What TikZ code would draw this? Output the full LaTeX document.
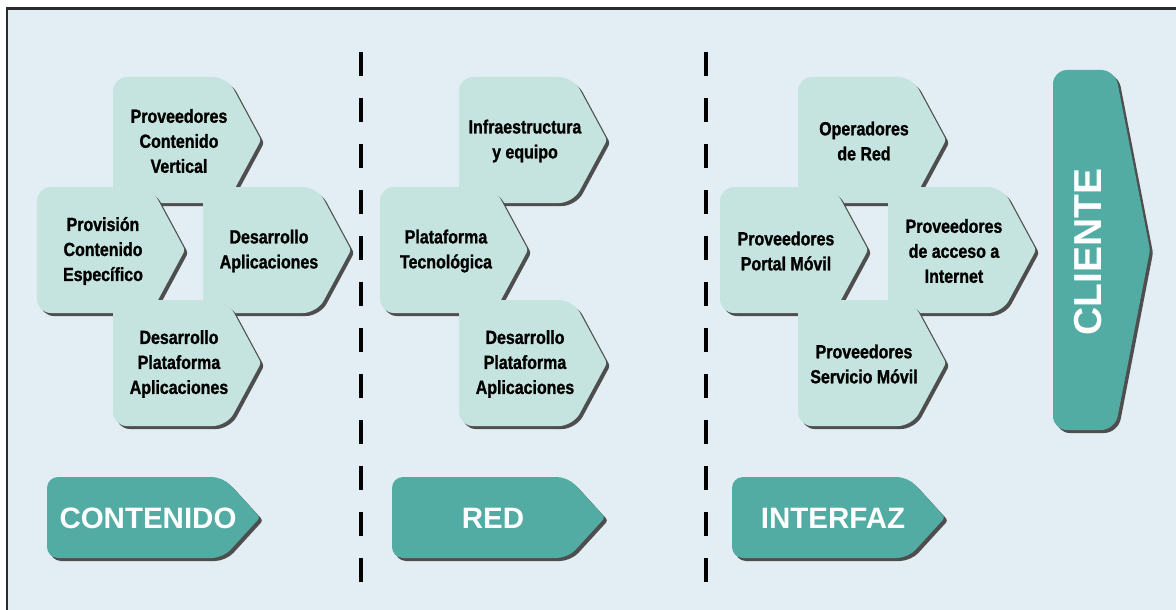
\documentclass[tikz,border=0pt]{standalone}
\usepackage{fontspec}
\setmainfont{Liberation Sans}
\newfontfamily\stagefont[FakeStretch=0.84,FakeBold=1.2]{Liberation Sans}

\definecolor{bgc}{HTML}{E2EEF4}
\definecolor{framec}{HTML}{2B2B2B}
\definecolor{boxc}{HTML}{C6E4DF}
\definecolor{tealc}{HTML}{52ACA3}
\definecolor{shadowc}{HTML}{4E4E4E}

% filled chevron: style, left, top, width, height, depth of the point, corner radius
\newcommand\chevron[7]{%
  \fill[#1, rounded corners=#7] (#2,#3) -- ({#2+#4-#6},#3)
    [rounded corners=3] -- ({#2+#4},{#3+#5/2})
    [rounded corners=#7] -- ({#2+#4-#6},{#3+#5}) -- (#2,{#3+#5}) -- cycle;}

% light value-chain step with its text: name, left, top, text
\newcommand\stage[4]{%
  \chevron{shadowc}{#2+3}{#3+3}{148}{126}{34}{14}
  \chevron{boxc}{#2}{#3}{148}{126}{34}{14}
  \node[stagetext] (#1) at ({#2+66},{#3+64}) {#4};}

% teal segment label: name, left, text
\newcommand\segment[3]{%
  \chevron{shadowc}{#2+3}{480}{213}{81}{37}{11}
  \chevron{tealc}{#2}{477}{213}{81}{37}{11}
  \node[segtext] (#1) at ({#2+101},{518}) {#3};}

\tikzset{
  stagetext/.style={align=center, inner sep=0pt, text=black,
    font={\stagefont\bfseries\fontsize{19}{25}\selectfont}},
  segtext/.style={inner sep=0pt, text=white,
    font={\bfseries\fontsize{29.5}{30}\selectfont}},
  divider/.style={line width=4pt, black, dash pattern=on 24pt off 22pt}
}

\begin{document}
\begin{tikzpicture}[x=1pt,y=-1pt]
\useasboundingbox (0,0) rectangle (1176,610);
\fill[white] (0,0) rectangle (1176,610);
\fill[bgc] (7,8) rectangle (1176,610);
\draw[framec, line width=2.5pt] (7,610) -- (7,8.5) -- (1176,8.5);

% dividers between the three segments
\coordinate (d1a) at (361,52);
\coordinate (d1b) at (361,582);
\coordinate (d2a) at (706,52);
\coordinate (d2b) at (706,582);
\draw[divider] (d1a) -- (d1b);
\draw[divider] (d2a) -- (d2b);

% contenido
\stage{c1}{113}{77}{Proveedores\\Contenido\\Vertical}
\stage{c2}{37}{187}{Provisión\\Contenido\\Específico}
\stage{c3}{203}{187}{Desarrollo\\Aplicaciones}
\stage{c4}{113}{300}{Desarrollo\\Plataforma\\Aplicaciones}

% red
\stage{r1}{459}{77}{Infraestructura\\y equipo}
\stage{r2}{380}{187}{Plataforma\\Tecnológica}
\stage{r3}{459}{300}{Desarrollo\\Plataforma\\Aplicaciones}

% interfaz
\stage{i1}{798}{77}{Operadores\\de Red}
\stage{i2}{720}{187}{Proveedores\\Portal Móvil}
\stage{i3}{888}{187}{Proveedores\\de acceso a\\Internet}
\stage{i4}{798}{300}{Proveedores\\Servicio Móvil}

% segment labels
\segment{lc}{47}{CONTENIDO}
\segment{lr}{392}{RED}
\segment{li}{732}{INTERFAZ}

% cliente
\fill[shadowc, rounded corners=14] (1056,73) -- (1118,73)
  [rounded corners=3] -- (1153,253)
  [rounded corners=14] -- (1118,433) -- (1056,433) -- cycle;
\fill[tealc, rounded corners=14] (1053,70) -- (1115,70)
  [rounded corners=3] -- (1150,250)
  [rounded corners=14] -- (1115,430) -- (1053,430) -- cycle;
\node[segtext, rotate=90, font={\bfseries\fontsize{39}{40}\selectfont}] (cl) at (1088,252) {CLIENTE};
\end{tikzpicture}
\end{document}
